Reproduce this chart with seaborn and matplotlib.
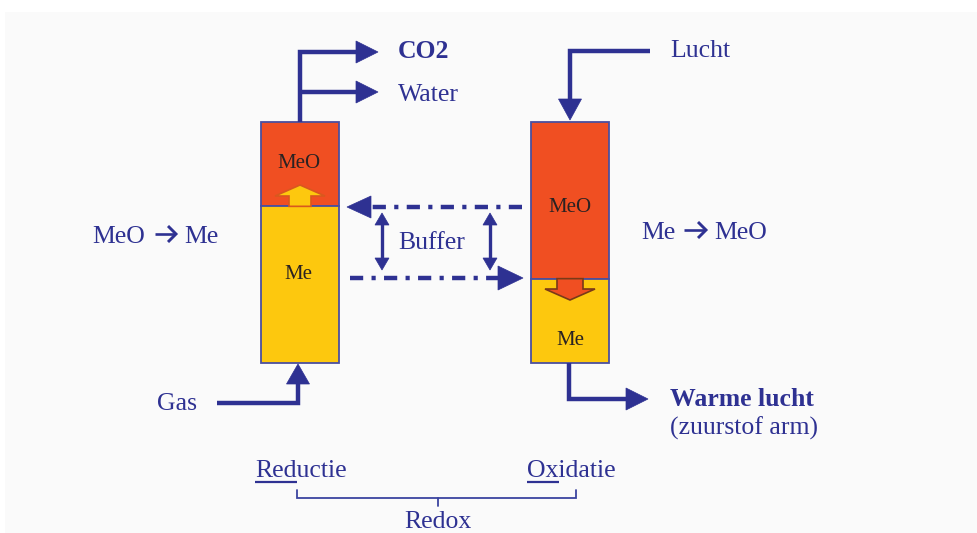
import numpy as np
import matplotlib
matplotlib.use("Agg")
import matplotlib.pyplot as plt
from matplotlib.patches import Polygon, Rectangle
import seaborn as sns

# ---------------- data ----------------
reactors = ["Reductie", "Oxidatie"]
meo_fraction = [0.35, 0.65]          # share of the column filled with MeO (top)
reaction_left = ["MeO", "Me"]         # MeO -> Me
reaction_right = ["Me", "MeO"]        # Me -> MeO
inlet_labels = ["Gas", "Lucht"]
outlet_labels_left = ["CO2", "Water"]
outlet_label_right = ["Warme lucht", "(zuurstof arm)"]
buffer_label = "Buffer"
bracket_label = "Redox"

# ---------------- style ----------------
sns.set_theme(style="white")
plt.rcParams["font.family"] = ["Liberation Serif", "DejaVu Serif"]
plt.rcParams["lines.scale_dashes"] = False

BLUE = "#2e3192"
ORANGE = "#f04f22"
YELLOW = "#fdc80e"
EDGE = "#4b4f9e"
TXT_IN = "#2a2222"

fig = plt.figure(figsize=(9.78, 5.33), dpi=100)
ax = fig.add_axes([0, 0, 1, 1])
ax.set_xlim(0, 978)
ax.set_ylim(533, 0)
ax.axis("off")
fig.patch.set_facecolor("white")
ax.add_patch(Rectangle((5, 12), 973, 521, facecolor="#fafafa", edgecolor="none", zorder=0))


def head(tip, direction, length, hw, color=BLUE, z=4):
    tx, ty = tip
    dx, dy = direction
    n = np.hypot(dx, dy)
    dx, dy = dx / n, dy / n
    bx, by = tx - dx * length, ty - dy * length
    px, py = -dy, dx
    tri = Polygon([(tx, ty), (bx + px * hw, by + py * hw), (bx - px * hw, by - py * hw)],
                  closed=True, facecolor=color, edgecolor=color, lw=0.5, zorder=z)
    ax.add_patch(tri)
    return bx, by


def arrow(points, length=21, hw=11, lw=3.2, color=BLUE, dashes=None, z=3):
    pts = [list(p) for p in points]
    tip = pts[-1]
    prev = pts[-2]
    bx, by = head(tip, (tip[0] - prev[0], tip[1] - prev[1]), length, hw, color)
    pts[-1] = [bx, by]
    xs = [p[0] for p in pts]
    ys = [p[1] for p in pts]
    kw = dict(color=color, lw=lw, solid_capstyle="butt", solid_joinstyle="miter", zorder=z)
    if dashes is not None:
        kw["dashes"] = dashes
        kw["dash_capstyle"] = "butt"
    ax.plot(xs, ys, **kw)


def text_arrow(x0, x1, y):
    # chevron-style arrow used inside the reaction labels
    ax.plot([x0, x1 - 1], [y, y], color=BLUE, lw=1.9, solid_capstyle="butt", zorder=5)
    ax.plot([x1 - 8, x1, x1 - 8], [y - 8, y, y + 8], color=BLUE, lw=2.1,
            solid_joinstyle="miter", solid_capstyle="butt", zorder=5)


# ---------------- reactors (stacked bars) ----------------
centers = [300, 570]
top, bottom = 122, 363
col_h = bottom - top
for cx, f in zip(centers, meo_fraction):
    h_meo = col_h * f
    ax.bar(cx, h_meo, bottom=top, width=78, color=ORANGE, edgecolor=EDGE, lw=1.3, zorder=2)
    ax.bar(cx, col_h - h_meo, bottom=top + h_meo, width=78, color=YELLOW, edgecolor=EDGE,
           lw=1.3, zorder=2)

# inner labels
left_split = top + col_h * meo_fraction[0]
right_split = top + col_h * meo_fraction[1]
ax.text(299, 168, "MeO", fontsize=15, color=TXT_IN, ha="center", va="baseline", zorder=5)
ax.text(298, 279, "Me", fontsize=15, color=TXT_IN, ha="center", va="baseline", zorder=5)
ax.text(570, 212, "MeO", fontsize=15, color=TXT_IN, ha="center", va="baseline", zorder=5)
ax.text(570, 345, "Me", fontsize=15, color=TXT_IN, ha="center", va="baseline", zorder=5)

# up arrow (yellow) in left reactor
up = Polygon([(289, left_split), (289, 196), (275, 196), (300, 185), (325, 196), (311, 196),
              (311, left_split)], closed=True, facecolor=YELLOW, edgecolor="#d8581e", lw=1.2, zorder=4)
ax.add_patch(up)
# down arrow (orange) in right reactor
dn = Polygon([(557, right_split), (557, 289), (545, 289), (570, 300), (595, 289), (583, 289),
              (583, right_split)], closed=True, facecolor=ORANGE, edgecolor="#7a3a18", lw=1.2, zorder=4)
ax.add_patch(dn)

# ---------------- flow arrows ----------------
arrow([(300, top), (300, 52), (378, 52)], length=22, hw=11)
arrow([(300, 92), (378, 92)], length=22, hw=11)
arrow([(650, 51), (570, 51), (570, 120)], length=21, hw=11.5)
arrow([(217, 403), (298, 403), (298, 364)], length=20, hw=11.5)
arrow([(569, bottom), (569, 399), (648, 399)], length=22, hw=11)

# dash-dot transfer lines
dd = [9.5, 6.0, 3.0, 6.0]
arrow([(522, 207), (347, 207)], length=24, hw=11, lw=3.2, dashes=dd)
arrow([(350, 278), (523, 278)], length=25, hw=12, lw=3.2, dashes=dd)

# buffer double arrows
for bx in [382, 490]:
    ax.plot([bx, bx], [224, 259], color=BLUE, lw=2.4, solid_capstyle="butt", zorder=3)
    head((bx, 213), (0, -1), 12, 7)
    head((bx, 270), (0, 1), 12, 7)

# ---------------- text ----------------
FS = 18.5
ax.text(398, 58, outlet_labels_left[0], fontsize=FS, fontweight="bold", color=BLUE, va="baseline")
ax.text(398, 101, outlet_labels_left[1], fontsize=FS, color=BLUE, va="baseline")
ax.text(670, 57, inlet_labels[1], fontsize=FS, color=BLUE, va="baseline")

# reaction labels with chevron arrows
ax.text(92, 243, reaction_left[0], fontsize=FS, color=BLUE, va="baseline")
text_arrow(155, 176, 234)
ax.text(184, 243, reaction_left[1], fontsize=FS, color=BLUE, va="baseline")
ax.text(641, 239, reaction_right[0], fontsize=FS, color=BLUE, va="baseline")
text_arrow(684, 706, 230)
ax.text(714, 239, reaction_right[1], fontsize=FS, color=BLUE, va="baseline")

ax.text(398, 249, buffer_label, fontsize=FS, color=BLUE, va="baseline")
ax.text(157, 410, inlet_labels[0], fontsize=FS, color=BLUE, va="baseline")
ax.text(670, 406, outlet_label_right[0], fontsize=FS, fontweight="bold", color=BLUE, va="baseline")
ax.text(670, 435, outlet_label_right[1], fontsize=FS, color=BLUE, va="baseline")
ax.text(255, 477, reactors[0], fontsize=FS, color=BLUE, va="baseline")
ax.text(527, 477, reactors[1], fontsize=FS, color=BLUE, va="baseline")
ax.text(438, 528, bracket_label, fontsize=FS, color=BLUE, va="baseline", ha="center")

# underlines "Red" and "Ox"
ax.plot([255, 297], [481.5, 481.5], color=BLUE, lw=1.6, solid_capstyle="butt")
ax.plot([527, 559], [481.5, 481.5], color=BLUE, lw=1.6, solid_capstyle="butt")

# bracket
BR = "#3b44a0"
ax.plot([297, 297, 576, 576], [490, 498, 498, 490], color=BR, lw=1.3, solid_joinstyle="miter")
ax.plot([438, 438], [498, 506], color=BR, lw=1.3)

fig.savefig("out.png", dpi=100, facecolor=fig.get_facecolor())
